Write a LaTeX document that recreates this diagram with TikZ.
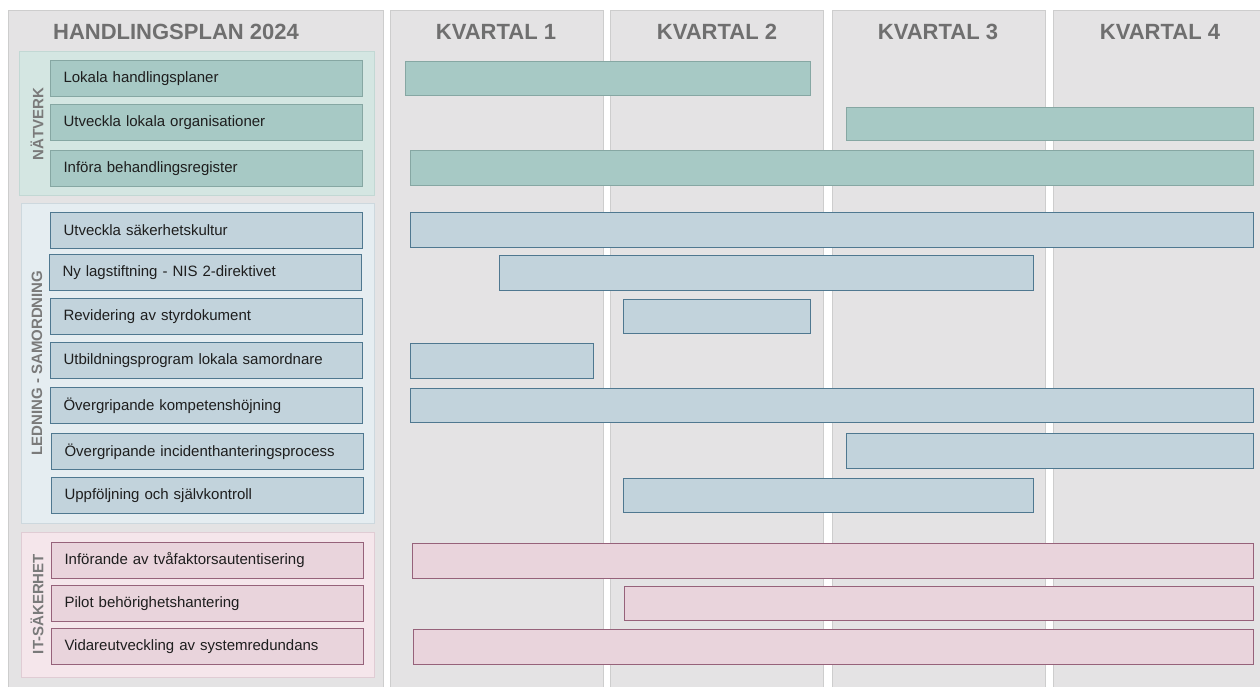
\documentclass[tikz,border=0pt]{standalone}
\usepackage{fontspec}
\setmainfont{Liberation Sans}
\definecolor{panelfill}{HTML}{E4E3E4}
\definecolor{paneldraw}{HTML}{CDCDCD}
\definecolor{headtext}{HTML}{6F6F6F}
\definecolor{grouptext}{HTML}{7A7A7A}
\definecolor{itemtext}{HTML}{1E1E1E}
\definecolor{natgfill}{HTML}{D4E6E2}
\definecolor{natgdraw}{HTML}{C2D8D4}
\definecolor{natfill}{HTML}{A7C9C5}
\definecolor{natdraw}{HTML}{86A7A3}
\definecolor{ledgfill}{HTML}{E5EDF1}
\definecolor{ledgdraw}{HTML}{CDD8DE}
\definecolor{ledfill}{HTML}{C2D3DC}
\definecolor{leddraw}{HTML}{4F7890}
\definecolor{itgfill}{HTML}{F5E6EB}
\definecolor{itgdraw}{HTML}{E0CCD4}
\definecolor{itfill}{HTML}{E9D4DC}
\definecolor{itdraw}{HTML}{96627A}
\tikzset{
  panel/.style={fill=panelfill, draw=paneldraw, line width=1pt},
  headlbl/.style={text=headtext, font=\fontsize{22}{24}\selectfont\bfseries, inner sep=0pt},
  grouplbl/.style={text=grouptext, font=\fontsize{15}{18}\selectfont\bfseries, rotate=90, inner sep=0pt},
  itembase/.style={anchor=north west, minimum width=312pt, minimum height=36pt, text width=286pt, inner xsep=13pt, inner ysep=0pt, align=left, text=itemtext, font=\fontsize{15}{18}\selectfont, line width=1pt},
  baritem/.style={anchor=north west, inner sep=0pt, line width=1pt},
  natg/.style={fill=natgfill, draw=natgdraw, line width=1pt},
  natitem/.style={itembase, fill=natfill, draw=natdraw},
  natbar/.style={baritem, fill=natfill, draw=natdraw},
  ledg/.style={fill=ledgfill, draw=ledgdraw, line width=1pt},
  leditem/.style={itembase, fill=ledfill, draw=leddraw},
  ledbar/.style={baritem, fill=ledfill, draw=leddraw},
  itg/.style={fill=itgfill, draw=itgdraw, line width=1pt},
  ititem/.style={itembase, fill=itfill, draw=itdraw},
  itbar/.style={baritem, fill=itfill, draw=itdraw},
}
\begin{document}
\begin{tikzpicture}[x=1pt,y=-1pt]
\useasboundingbox[fill=white] (0,0) rectangle (1260,687);
% panels
\draw[panel] (8,11) rectangle (383,692);
\draw[panel] (390,11) rectangle (603,692);
\draw[panel] (610,11) rectangle (823,692);
\draw[panel] (832,11) rectangle (1045,692);
\draw[panel] (1053,11) rectangle (1268,692);
% headers
\node[headlbl] (hplan) at (176,32) {HANDLINGSPLAN 2024};
\node[headlbl] (hk1) at (496,32) {KVARTAL 1};
\node[headlbl] (hk2) at (717,32) {KVARTAL 2};
\node[headlbl] (hk3) at (938,32) {KVARTAL 3};
\node[headlbl] (hk4) at (1160,32) {KVARTAL 4};
% groups
\draw[natg] (19,52) rectangle (374,196);
\draw[ledg] (21,203) rectangle (374,523);
\draw[itg] (21,532) rectangle (374,677);
\node[grouplbl] (gnat) at (37,124) {NÄTVERK};
\node[grouplbl] (gled) at (37,363) {LEDNING - SAMORDNING};
\node[grouplbl] (git) at (37,604) {IT-SÄKERHET};
% NÄTVERK items
\node[natitem] (n1) at (50,60) {Lokala handlingsplaner};
\node[natitem] (n2) at (50,104) {Utveckla lokala organisationer};
\node[natitem] (n3) at (50,150) {Införa behandlingsregister};
\node[natbar, minimum width=405pt, minimum height=34pt] (nb1) at (405,61) {};
\node[natbar, minimum width=407pt, minimum height=33pt] (nb2) at (846,107) {};
\node[natbar, minimum width=843pt, minimum height=35pt] (nb3) at (410,150) {};
% LEDNING items
\node[leditem] (l1) at (50,212) {Utveckla säkerhetskultur};
\node[leditem] (l2) at (49,254) {Ny lagstiftning - NIS 2-direktivet};
\node[leditem] (l3) at (50,298) {Revidering av styrdokument};
\node[leditem] (l4) at (50,342) {Utbildningsprogram lokala samordnare};
\node[leditem] (l5) at (50,387) {Övergripande kompetenshöjning};
\node[leditem] (l6) at (51,433) {Övergripande incidenthanteringsprocess};
\node[leditem] (l7) at (51,477) {Uppföljning och självkontroll};
\node[ledbar, minimum width=843pt, minimum height=35pt] (lb1) at (410,212) {};
\node[ledbar, minimum width=534pt, minimum height=35pt] (lb2) at (499,255) {};
\node[ledbar, minimum width=187pt, minimum height=34pt] (lb3) at (623,299) {};
\node[ledbar, minimum width=183pt, minimum height=35pt] (lb4) at (410,343) {};
\node[ledbar, minimum width=843pt, minimum height=34pt] (lb5) at (410,388) {};
\node[ledbar, minimum width=407pt, minimum height=35pt] (lb6) at (846,433) {};
\node[ledbar, minimum width=410pt, minimum height=34pt] (lb7) at (623,478) {};
% IT items
\node[ititem] (i1) at (51,542) {Införande av tvåfaktorsautentisering};
\node[ititem] (i2) at (51,585) {Pilot behörighetshantering};
\node[ititem] (i3) at (51,628) {Vidareutveckling av systemredundans};
\node[itbar, minimum width=841pt, minimum height=35pt] (ib1) at (412,543) {};
\node[itbar, minimum width=629pt, minimum height=34pt] (ib2) at (624,586) {};
\node[itbar, minimum width=840pt, minimum height=35pt] (ib3) at (413,629) {};
\end{tikzpicture}
\end{document}
